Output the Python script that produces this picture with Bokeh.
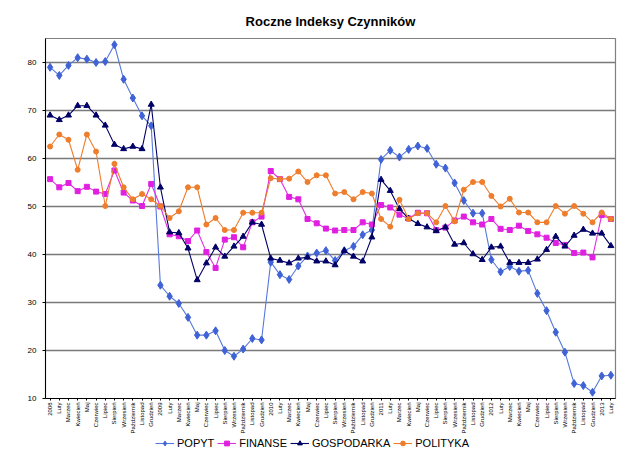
import math
from bokeh.plotting import figure
from bokeh.models import Range1d, FixedTicker, Legend, LegendItem
from bokeh.layouts import column
from bokeh.embed import file_html
from bokeh.resources import INLINE

months = ["Luty", "Marzec", "Kwiecień", "Maj", "Czerwiec", "Lipiec", "Sierpień",
          "Wrzesień", "Październik", "Listopad", "Grudzień"]
years = ["2008", "2009", "2010", "2011", "2012"]
categories = []
for y in years:
    categories.append(y)
    categories.extend(months)
categories += ["2013", "Luty"]

popyt = [79.0, 77.3, 79.4, 81.0, 80.7, 80.0, 80.2, 83.7, 76.5, 72.6, 68.9, 66.8,
         33.6, 31.3, 29.8, 26.9, 23.2, 23.2, 24.1, 20.0, 18.8, 20.3, 22.5, 22.2,
         38.4, 35.8, 34.8, 37.6, 39.7, 40.3, 40.8, 38.75, 40.8, 41.7, 44.1, 45.1,
         59.8, 61.7, 60.3, 61.9, 62.6, 62.1, 58.8, 58.0, 54.9, 51.25, 48.6, 48.6,
         38.9, 36.4, 37.5, 36.5, 36.7, 31.9, 28.3, 23.8, 19.65, 13.1, 12.7, 11.3,
         14.7, 14.85]
finanse = [55.7, 54.0, 54.9, 53.2, 54.1, 53.1, 52.6, 57.5, 52.9, 51.25, 50.1, 54.7,
           50.0, 44.2, 43.8, 42.8, 45.0, 40.5, 37.2, 43.1, 43.6, 41.5, 46.7, 47.9,
           57.4, 55.7, 52.0, 51.5, 47.4, 46.5, 45.4, 45.0, 45.1, 45.1, 46.7, 46.25,
           50.3, 49.8, 48.3, 47.5, 48.7, 48.6, 45.1, 45.6, 47.1, 47.9, 46.7, 46.25,
           47.4, 45.35, 45.1, 46.0, 44.9, 44.2, 43.5, 42.4, 42.0, 40.3, 40.4, 39.4,
           48.2, 47.4]
gospodarka = [69.0, 68.05, 69.0, 71.0, 71.0, 69.0, 66.9, 62.9, 62.0, 62.5, 62.0, 71.25,
              54.0, 44.65, 44.5, 41.3, 34.7, 38.2, 41.5, 39.6, 41.7, 43.75, 46.7, 46.25,
              39.2, 38.75, 38.2, 39.2, 39.4, 38.6, 38.6, 37.8, 40.8, 39.6, 38.6, 43.6,
              55.6, 53.3, 49.5, 47.5, 46.4, 45.7, 44.9, 45.7, 42.1, 42.4, 40.1, 38.9,
              41.5, 41.7, 38.3, 38.3, 38.3, 39.0, 41.0, 43.75, 41.7, 43.96, 45.2, 44.4,
              44.4, 41.8]
polityka = [62.5, 65.0, 63.9, 57.65, 65.0, 61.45, 50.1, 58.9, 54.0, 51.5, 52.6, 51.5,
            50.1, 47.6, 49.0, 54.0, 54.0, 46.25, 47.6, 45.1, 45.1, 48.7, 48.7, 48.7,
            55.9, 55.7, 55.8, 57.3, 55.1, 56.5, 56.5, 52.7, 53.0, 51.5, 53.0, 52.7,
            47.4, 45.8, 51.4, 47.4, 48.6, 48.6, 46.7, 50.1, 46.9, 53.5, 55.1, 55.1,
            52.2, 50.0, 51.6, 48.75, 48.75, 46.7, 46.7, 50.1, 48.5, 50.1, 48.5, 46.7,
            48.75, 47.4]
y_ticks = [10, 20, 30, 40, 50, 60, 70, 80]

x = list(range(len(categories)))

p = figure(width=640, height=436, output_backend="svg", toolbar_location=None,
           x_range=Range1d(-0.5, len(categories) - 0.5), y_range=Range1d(10, 85),
           min_border_left=45, min_border_right=25, min_border_top=38, min_border_bottom=38,
           background_fill_color="white", border_fill_color="white")

p.title.text = "Roczne Indeksy Czynników"
p.title.align = "center"
p.title.text_font = "Liberation Sans"
p.title.text_font_size = "13px"
p.title.text_font_style = "bold"
p.title.text_color = "#000000"
p.title.standoff = 20

p.outline_line_color = "#808080"
p.outline_line_width = 1.2

p.xgrid.visible = False
p.ygrid.ticker = FixedTicker(ticks=y_ticks)
p.ygrid.grid_line_color = "#7a7a7a"
p.ygrid.grid_line_width = 1.3

p.yaxis.ticker = FixedTicker(ticks=y_ticks)
p.yaxis.major_label_text_font = "Liberation Sans"
p.yaxis.major_label_text_font_size = "8px"
p.yaxis.major_label_text_color = "#000000"
p.yaxis.axis_line_color = "#000000"
p.yaxis.major_tick_out = 3
p.yaxis.major_tick_in = 0
p.yaxis.minor_tick_line_color = None
p.yaxis.major_label_standoff = 6

p.xaxis.ticker = FixedTicker(ticks=x)
p.xaxis.major_label_overrides = {i: c for i, c in enumerate(categories)}
p.xaxis.major_label_orientation = math.pi / 2
p.xaxis.major_label_text_font = "Liberation Sans"
p.xaxis.major_label_text_font_size = "6px"
p.xaxis.major_label_text_color = "#000000"
p.xaxis.axis_line_color = "#000000"
p.xaxis.major_tick_out = 2
p.xaxis.major_tick_in = 0
p.xaxis.minor_tick_line_color = None
p.xaxis.major_label_standoff = 2

series = [
    ("POPYT", popyt, "#5578dc", "#3f62d6", "diamond", 8),
    ("FINANSE", finanse, "#e030e0", "#e020e0", "square", 5),
    ("GOSPODARKA", gospodarka, "#000066", "#000066", "triangle", 6),
    ("POLITYKA", polityka, "#ee7d2c", "#ee7d2c", "circle", 5),
]

for name, vals, lc, mc, marker, size in series:
    p.line(x, vals, line_color=lc, line_width=1.1)
    p.scatter(x, vals, marker=marker, size=size, fill_color=mc, line_color=mc)

# legend strip below the chart; its renderers use the same data but lie outside its view
lg = figure(width=640, height=20, output_backend="svg", toolbar_location=None,
            x_axis_type=None, y_axis_type=None, min_border=0,
            x_range=Range1d(-0.5, len(categories) - 0.5), y_range=Range1d(200, 201),
            background_fill_color="white", border_fill_color="white")
lg.outline_line_color = None
lg.xgrid.visible = False
lg.ygrid.visible = False
items = []
for name, vals, lc, mc, marker, size in series:
    ln = lg.line(x, vals, line_color=lc, line_width=1.1)
    sc = lg.scatter(x, vals, marker=marker, size=size, fill_color=mc, line_color=mc)
    items.append(LegendItem(label=name, renderers=[ln, sc]))

legend = Legend(items=items, orientation="horizontal", location=(110, 7),
                label_text_font="Liberation Sans", label_text_font_size="11px",
                label_text_color="#000000", glyph_width=19, glyph_height=12,
                label_standoff=3, spacing=3, padding=1, margin=0,
                border_line_color=None, background_fill_alpha=0)
lg.add_layout(legend, "center")

layout = column(p, lg, spacing=0)
open("out.html", "w").write(file_html(layout, INLINE))
